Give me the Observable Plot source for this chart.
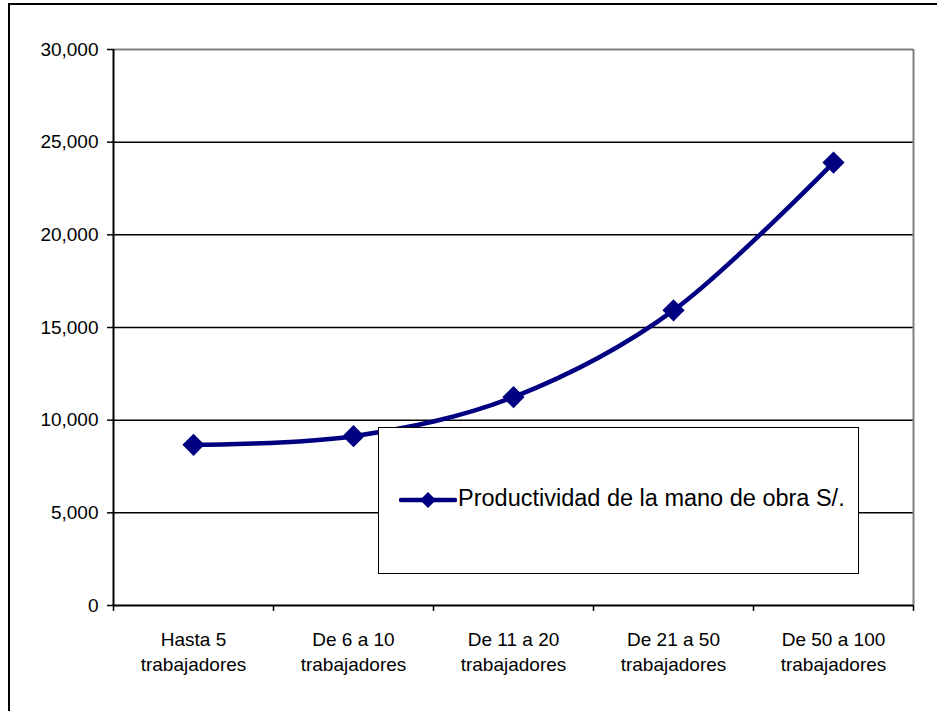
<!DOCTYPE html>
<html>
<head>
<meta charset="utf-8">
<script src="https://cdn.jsdelivr.net/npm/d3@7"></script>
<script src="https://cdn.jsdelivr.net/npm/@observablehq/plot@0.6"></script>
<style>
  html, body { margin: 0; padding: 0; background: #fff; overflow: hidden; }
  #wrap { position: relative; width: 937px; height: 711px; font-family: "Liberation Sans", Arial, sans-serif; }
  #frame { position: absolute; left: 8px; top: 3px; width: 1200px; height: 1000px; border-left: 2px solid #000; border-top: 2px solid #000; pointer-events: none; }
  #legend { position: absolute; left: 378px; top: 427px; width: 481px; height: 147px; background: #fff; border: 1.5px solid #000; box-sizing: border-box; }
  #legend svg { position: absolute; left: 20px; top: 60px; }
  #legend span { position: absolute; left: 79px; top: 57px; font-size: 23.5px; line-height: 26px; color: #000; white-space: nowrap; }
</style>
</head>
<body>
<div id="wrap">
  <div id="chart"></div>
  <div id="legend"></div>
  <div id="frame"></div>
</div>
<script>
const categories = ["Hasta 5\ntrabajadores", "De 6 a 10\ntrabajadores", "De 11 a 20\ntrabajadores", "De 21 a 50\ntrabajadores", "De 50 a 100\ntrabajadores"];
const productividad = [8670, 9135, 11245, 15925, 23900];
const yTicks = [0, 5000, 10000, 15000, 20000, 25000, 30000];
const seriesName = "Productividad de la mano de obra S/.";
const lineColor = "#000080";

const data = categories.map((c, i) => ({cat: c, pos: i + 0.5, value: productividad[i]}));
const boundaries = d3.range(categories.length + 1);

const chart = Plot.plot({
  width: 937,
  height: 711,
  marginLeft: 113,
  marginRight: 24,
  marginTop: 49,
  marginBottom: 106,
  style: {fontFamily: "'Liberation Sans', Arial, sans-serif", color: "#000", background: "transparent"},
  x: {type: "linear", domain: [0, categories.length]},
  y: {domain: [0, 30000]},
  marks: [
    Plot.ruleY(yTicks.filter(d => d > 0 && d < 30000), {stroke: "#000", strokeWidth: 1.5}),
    Plot.ruleY([30000], {stroke: "#808080", strokeWidth: 2}),
    Plot.ruleX([categories.length], {stroke: "#808080", strokeWidth: 2}),
    Plot.axisY({ticks: yTicks, tickSize: 6, tickPadding: 9, tickFormat: d3.format(","), fontSize: 19, strokeWidth: 1.5, label: null}),
    Plot.axisX({ticks: boundaries, tickSize: 6, tickFormat: () => "", strokeWidth: 1.5, label: null}),
    Plot.axisX({ticks: data.map(d => d.pos), tickSize: 0, tickPadding: 22, tickFormat: d => categories[Math.floor(d)], fontSize: 19, lineHeight: 1.35, label: null}),
    Plot.ruleX([0], {stroke: "#000", strokeWidth: 2}),
    Plot.ruleY([0], {stroke: "#000", strokeWidth: 2}),
    Plot.line(data, {x: "pos", y: "value", curve: "cardinal", stroke: lineColor, strokeWidth: 4.5}),
    Plot.dot(data, {x: "pos", y: "value", symbol: "diamond2", r: 10, fill: lineColor, stroke: null})
  ]
});
document.getElementById("chart").appendChild(chart);

const legend = document.getElementById("legend");
legend.innerHTML = `<svg width="58" height="24" viewBox="0 0 58 24">
  <line x1="2" y1="12" x2="56" y2="12" stroke="${lineColor}" stroke-width="4.5" stroke-linecap="round"/>
  <path d="M29,4 L37,12 L29,20 L21,12 Z" fill="${lineColor}"/>
</svg><span></span>`;
legend.querySelector("span").textContent = seriesName;
</script>
</body>
</html>
